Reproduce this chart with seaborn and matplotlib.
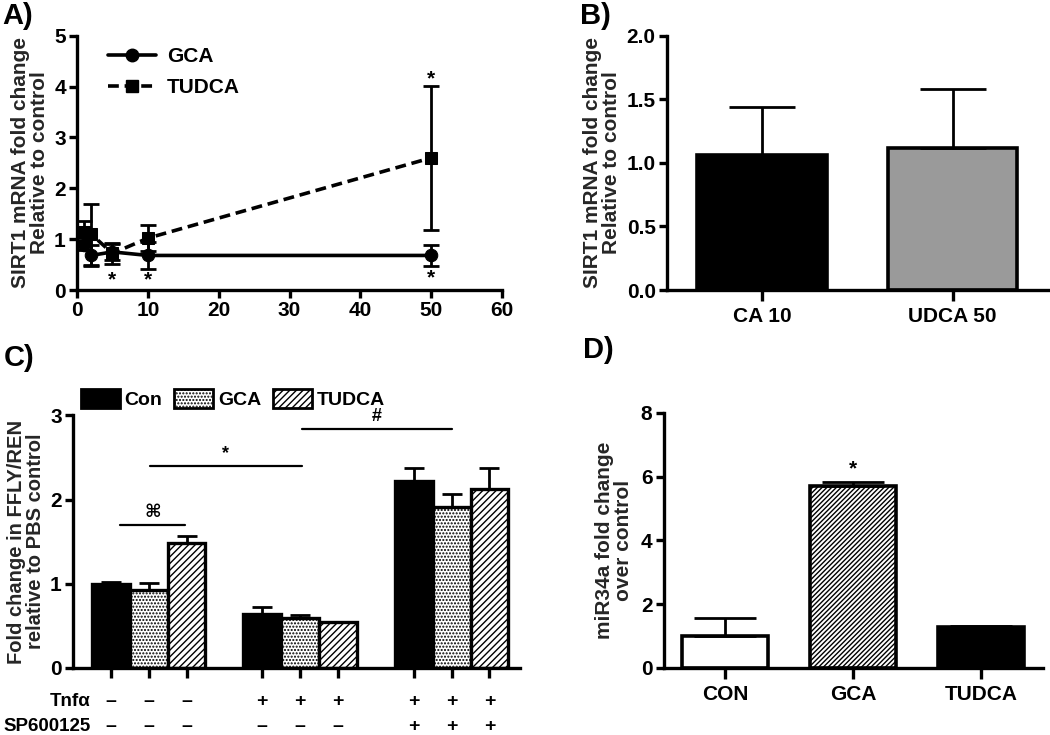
import numpy as np
import pandas as pd
import matplotlib
matplotlib.use("Agg")
import matplotlib.pyplot as plt
import matplotlib.transforms as mtransforms
from matplotlib.lines import Line2D
from matplotlib.patches import Patch
import seaborn as sns

# ---- data ----
# A) SIRT1 mRNA vs concentration
conc = [1, 2, 5, 10, 50]
gca_mean = [0.88, 0.68, 0.75, 0.68, 0.68]
gca_err = [0.10, 0.20, 0.15, 0.26, 0.20]
tudca_mean = [1.15, 1.10, 0.72, 1.02, 2.60]
tudca_err = [0.20, 0.60, 0.21, 0.25, 1.42]

# B) SIRT1 mRNA, single doses
b_labels = ["CA 10", "UDCA 50"]
b_mean = [1.06, 1.12]
b_err = [0.38, 0.46]

# C) luciferase reporter
c_groups = ["PBS", "Tnfa", "Tnfa+SP"]
c_treat = ["Con", "GCA", "TUDCA"]
c_mean = [[1.00, 0.93, 1.48],
          [0.64, 0.59, 0.54],
          [2.22, 1.91, 2.12]]
c_err = [[0.02, 0.08, 0.09],
         [0.08, 0.04, 0.01],
         [0.15, 0.15, 0.25]]
tnf_row = ["–", "–", "–", "+", "+", "+", "+", "+", "+"]
sp_row = ["–", "–", "–", "–", "–", "–", "+", "+", "+"]

# D) miR34a
d_labels = ["CON", "GCA", "TUDCA"]
d_mean = [1.00, 5.72, 1.27]
d_err = [0.57, 0.11, 0.05]

# ---- style ----
sns.set_style("ticks")
plt.rcParams["font.family"] = ["Liberation Sans", "DejaVu Sans"]
plt.rcParams["font.weight"] = "bold"
plt.rcParams["axes.labelweight"] = "bold"
plt.rcParams["axes.linewidth"] = 2.4
plt.rcParams["xtick.major.width"] = 2.4
plt.rcParams["ytick.major.width"] = 2.4
plt.rcParams["xtick.major.size"] = 6
plt.rcParams["ytick.major.size"] = 6
plt.rcParams["xtick.labelsize"] = 15
plt.rcParams["ytick.labelsize"] = 15
plt.rcParams["hatch.linewidth"] = 1.0
plt.rcParams["xtick.color"] = "black"
plt.rcParams["ytick.color"] = "black"
plt.rcParams["text.color"] = "black"

fig = plt.figure(figsize=(10.5, 7.35), dpi=100)
axA = fig.add_axes([0.0733, 0.6054, 0.405, 0.346])
axB = fig.add_axes([0.635, 0.6054, 0.363, 0.346])
axC = fig.add_axes([0.0695, 0.0912, 0.4255, 0.3438])
axD = fig.add_axes([0.632, 0.0912, 0.361, 0.347])

for ax in (axA, axB, axC, axD):
    sns.despine(ax=ax)
    for s in ("left", "bottom"):
        ax.spines[s].set_color("black")
    ax.tick_params(pad=2)

# ---- A ----
dfA = pd.DataFrame({
    "conc": conc * 2,
    "val": gca_mean + tudca_mean,
    "grp": ["GCA"] * len(conc) + ["TUDCA"] * len(conc),
})
sns.lineplot(data=dfA, x="conc", y="val", hue="grp", style="grp",
             palette=["black", "black"], dashes={"GCA": "", "TUDCA": (3, 1.6)},
             markers={"GCA": "o", "TUDCA": "s"}, markersize=9, linewidth=2.6,
             markeredgecolor="black", legend=False, ax=axA)
axA.errorbar(conc, gca_mean, yerr=gca_err, fmt="none", ecolor="black",
             elinewidth=2, capsize=6, capthick=2)
axA.errorbar(conc, tudca_mean, yerr=tudca_err, fmt="none", ecolor="black",
             elinewidth=2, capsize=6, capthick=2)
for xs, ys in [(5, 0.20), (10, 0.20), (50, 0.24), (50, 4.15)]:
    axA.text(xs, ys, "*", ha="center", va="center", fontsize=15, fontweight="bold")
axA.set_xlim(0, 60)
axA.set_ylim(0, 5)
axA.set_xticks(range(0, 61, 10))
axA.set_yticks(range(0, 6))
axA.set_xlabel("")
axA.set_ylabel("SIRT1 mRNA fold change\nRelative to control", fontsize=15,
               linespacing=1.0, labelpad=4)
hA = [Line2D([], [], color="black", lw=2.6, marker="o", markersize=9),
      Line2D([], [], color="black", lw=2.6, marker="s", markersize=9,
             dashes=(3, 1.6))]
axA.legend(hA, ["GCA", "TUDCA"], loc="upper left", frameon=False,
           handlelength=2.3, bbox_to_anchor=(0.03, 1.03), handletextpad=0.5,
           labelspacing=0.6, prop={"weight": "bold", "size": 15})

# ---- B ----
dfB = pd.DataFrame({"lab": b_labels, "val": b_mean})
sns.barplot(data=dfB, x="lab", y="val", hue="lab",
            palette=["black", "#9a9a9a"], width=0.68, edgecolor="black",
            linewidth=2.6, errorbar=None, legend=False, ax=axB)
for p, e in zip(axB.patches, b_err):
    cx = p.get_x() + p.get_width() / 2
    axB.errorbar(cx, p.get_height(), yerr=[[0], [e]], fmt="none",
                 ecolor="black", elinewidth=2, capsize=24, capthick=2, zorder=1)
axB.set_xlim(-0.5, 1.5)
axB.set_ylim(0, 2)
axB.set_yticks([0, 0.5, 1.0, 1.5, 2.0])
axB.set_yticklabels(["0.0", "0.5", "1.0", "1.5", "2.0"])
axB.tick_params(axis="x", length=8, pad=4)
axB.set_xlabel("")
axB.set_ylabel("SIRT1 mRNA fold change\nRelative to control", fontsize=15,
               linespacing=1.0, labelpad=4)

# ---- C ----
dfC = pd.DataFrame({
    "grp": np.repeat(c_groups, 3),
    "treat": c_treat * 3,
    "val": np.ravel(c_mean),
    "err": np.ravel(c_err),
})
sns.barplot(data=dfC, x="grp", y="val", hue="treat", hue_order=c_treat,
            palette=["black", "white", "white"], width=0.75, edgecolor="black",
            linewidth=2.4, errorbar=None, legend=False, ax=axC)
hatches = {"Con": "", "GCA": ".....", "TUDCA": "/////"}
for p, t in zip(axC.patches, np.repeat(c_treat, 3)):
    p.set_hatch(hatches[t])
centers = []
order = dfC["treat"].map({k: i for i, k in enumerate(c_treat)})
errs_by_patch = dfC.assign(o=order).sort_values("o", kind="stable")["err"].tolist()
for p, e in zip(axC.patches, errs_by_patch):
    cx = p.get_x() + p.get_width() / 2
    centers.append(cx)
    axC.errorbar(cx, p.get_height(), yerr=[[0], [e]], fmt="none",
                 ecolor="black", elinewidth=2, capsize=7, capthick=2, zorder=1)
centers = sorted(centers)
axC.set_xticks(centers)
axC.set_xticklabels([])
axC.tick_params(axis="x", length=7)
trC = mtransforms.blended_transform_factory(axC.transData, axC.transAxes)
for cx, a, b in zip(centers, tnf_row, sp_row):
    axC.text(cx, -0.134, a, transform=trC, ha="center", va="center",
             fontsize=14, fontweight="bold")
    axC.text(cx, -0.232, b, transform=trC, ha="center", va="center",
             fontsize=14, fontweight="bold")
axC.text(0.04, -0.134, "Tnfα", transform=axC.transAxes, ha="right",
         va="center", fontsize=13.5, fontweight="bold")
axC.text(0.04, -0.232, "SP600125", transform=axC.transAxes, ha="right",
         va="center", fontsize=13.5, fontweight="bold")
axC.set_xlim(-0.5, 2.45)
axC.set_ylim(0, 3)
axC.set_yticks([0, 1, 2, 3])
axC.set_xlabel("")
axC.set_ylabel("Fold change in FFLY/REN\nrelative to PBS control", fontsize=14.5,
               linespacing=1.0, labelpad=4)
for x0, x1, yy, sym in [(-0.19, 0.24, 1.70, "⌘"), (0.01, 1.01, 2.40, "*"),
                        (1.01, 2.0, 2.84, "#")]:
    axC.plot([x0, x1], [yy, yy], color="black", lw=1.6)
    axC.text((x0 + x1) / 2, yy + 0.04, sym, ha="center", va="bottom",
             fontsize=13, fontweight="bold")
hC = [Patch(facecolor="black", edgecolor="black", lw=2),
      Patch(facecolor="white", edgecolor="black", hatch=".....", lw=2),
      Patch(facecolor="white", edgecolor="black", hatch="/////", lw=2)]
fig.legend(hC, c_treat, loc="center left", bbox_to_anchor=(0.077, 0.457),
           ncol=3, frameon=False, handlelength=2.0, handleheight=1.1,
           columnspacing=0.6, handletextpad=0.25, borderpad=0,
           borderaxespad=0, prop={"weight": "bold", "size": 14})

# ---- D ----
dfD = pd.DataFrame({"lab": d_labels, "val": d_mean})
sns.barplot(data=dfD, x="lab", y="val", hue="lab",
            palette=["white", "white", "black"], width=0.67, edgecolor="black",
            linewidth=2.6, errorbar=None, legend=False, ax=axD)
axD.patches[1].set_hatch("///////")
for p, e in zip(axD.patches, d_err):
    cx = p.get_x() + p.get_width() / 2
    axD.errorbar(cx, p.get_height(), yerr=[[0], [e]], fmt="none",
                 ecolor="black", elinewidth=2, capsize=22, capthick=2, zorder=1)
axD.text(1, 6.25, "*", ha="center", va="center", fontsize=15, fontweight="bold")
axD.set_xlim(-0.48, 2.48)
axD.set_ylim(0, 8)
axD.set_yticks([0, 2, 4, 6, 8])
axD.tick_params(axis="x", length=8, pad=4)
axD.set_xlabel("")
axD.set_ylabel("miR34a fold change\nover control", fontsize=15,
               linespacing=1.0, labelpad=6)

# ---- panel letters ----
for x, y, s in [(0.002, 0.997, "A)"), (0.552, 0.997, "B)"),
                (0.004, 0.532, "C)"), (0.555, 0.543, "D)")]:
    fig.text(x, y, s, ha="left", va="top", fontsize=21, fontweight="bold")

fig.savefig("out.png", dpi=100)
